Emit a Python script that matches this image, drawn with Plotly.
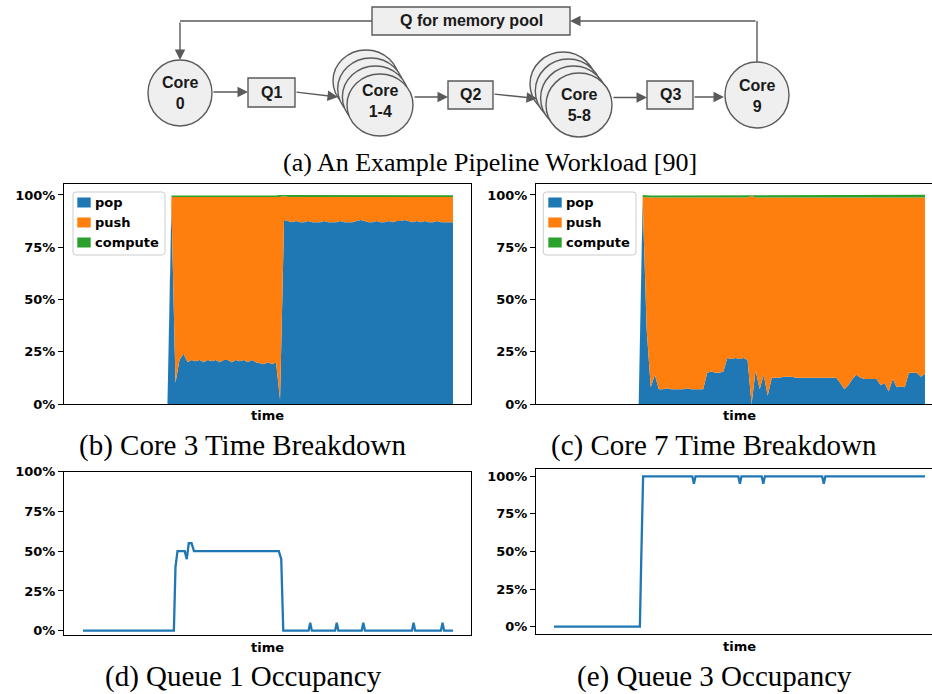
import plotly.graph_objects as go

# ---------------- data ----------------
SERIES = ["pop", "push", "compute"]
SAMPLE = list(range(93))  # sample index along the (unlabelled) time axis

POP_B = [
    0, 0, 0, 0, 0, 0, 0, 0, 0, 0,
    0, 0, 0, 0, 0, 0, 0, 0, 0, 0,
    0, 0, 0.94, 0.10, 0.21, 0.24, 0.20, 0.21, 0.205, 0.21,
    0.20, 0.21, 0.205, 0.21, 0.20, 0.21, 0.21, 0.20, 0.21, 0.205,
    0.21, 0.20, 0.21, 0.20, 0.195, 0.19, 0.20, 0.19, 0.20, 0.02,
    0.88, 0.875, 0.87, 0.875, 0.87, 0.87, 0.875, 0.87, 0.87, 0.87,
    0.875, 0.87, 0.87, 0.87, 0.875, 0.87, 0.87, 0.87, 0.875, 0.88,
    0.875, 0.87, 0.87, 0.875, 0.87, 0.87, 0.875, 0.87, 0.875, 0.875,
    0.88, 0.875, 0.87, 0.875, 0.87, 0.875, 0.87, 0.87, 0.875, 0.87,
    0.87, 0.87, 0.87,
]
PUSH_B = [
    0, 0, 0, 0, 0, 0, 0, 0, 0, 0,
    0, 0, 0, 0, 0, 0, 0, 0, 0, 0,
    0, 0, 0.05, 0.89, 0.78, 0.75, 0.79, 0.78, 0.785, 0.78,
    0.79, 0.78, 0.785, 0.78, 0.79, 0.78, 0.78, 0.79, 0.78, 0.785,
    0.78, 0.79, 0.78, 0.79, 0.795, 0.80, 0.79, 0.80, 0.79, 0.97,
    0.115, 0.115, 0.12, 0.115, 0.12, 0.12, 0.115, 0.12, 0.12, 0.12,
    0.115, 0.12, 0.12, 0.12, 0.115, 0.12, 0.12, 0.12, 0.115, 0.11,
    0.115, 0.12, 0.12, 0.115, 0.12, 0.12, 0.115, 0.12, 0.115, 0.115,
    0.11, 0.115, 0.12, 0.115, 0.12, 0.115, 0.12, 0.12, 0.115, 0.12,
    0.12, 0.12, 0.12,
]
COMPUTE_B = [
    0, 0, 0, 0, 0, 0, 0, 0, 0, 0,
    0, 0, 0, 0, 0, 0, 0, 0, 0, 0,
    0, 0, 0.008, 0.008, 0.008, 0.008, 0.008, 0.008, 0.008, 0.008,
    0.008, 0.008, 0.007, 0.008, 0.008, 0.008, 0.007, 0.008, 0.008, 0.008,
    0.008, 0.008, 0.008, 0.006, 0.008, 0.008, 0.008, 0.008, 0.008, 0.01,
    0.005, 0.009, 0.009, 0.009, 0.009, 0.009, 0.009, 0.009, 0.009, 0.009,
    0.009, 0.009, 0.008, 0.009, 0.009, 0.009, 0.009, 0.009, 0.009, 0.009,
    0.009, 0.009, 0.009, 0.009, 0.009, 0.009, 0.009, 0.008, 0.009, 0.009,
    0.009, 0.009, 0.009, 0.008, 0.009, 0.009, 0.009, 0.009, 0.009, 0.009,
    0.009, 0.009, 0.009,
]

POP_C = [
    0, 0, 0, 0, 0, 0, 0, 0, 0, 0,
    0, 0, 0, 0, 0, 0, 0, 0, 0, 0,
    0, 0, 0.97, 0.35, 0.08, 0.14, 0.07, 0.07, 0.075, 0.07,
    0.07, 0.07, 0.07, 0.075, 0.07, 0.07, 0.07, 0.07, 0.15, 0.155,
    0.15, 0.15, 0.155, 0.22, 0.215, 0.22, 0.215, 0.22, 0.21, 0.0,
    0.16, 0.07, 0.14, 0.04, 0.125, 0.125, 0.125, 0.13, 0.13, 0.13,
    0.125, 0.125, 0.125, 0.125, 0.125, 0.125, 0.125, 0.125, 0.125, 0.125,
    0.125, 0.10, 0.07, 0.09, 0.12, 0.14, 0.125, 0.12, 0.12, 0.12,
    0.12, 0.09, 0.10, 0.06, 0.12, 0.08, 0.085, 0.08, 0.15, 0.15,
    0.15, 0.13, 0.145,
]
PUSH_C = [
    0, 0, 0, 0, 0, 0, 0, 0, 0, 0,
    0, 0, 0, 0, 0, 0, 0, 0, 0, 0,
    0, 0, 0.02, 0.638, 0.908, 0.848, 0.918, 0.918, 0.913, 0.918,
    0.918, 0.918, 0.918, 0.913, 0.918, 0.918, 0.918, 0.918, 0.838, 0.833,
    0.838, 0.838, 0.833, 0.768, 0.773, 0.768, 0.773, 0.768, 0.778, 0.995,
    0.828, 0.918, 0.848, 0.948, 0.863, 0.863, 0.863, 0.858, 0.858, 0.858,
    0.863, 0.863, 0.863, 0.863, 0.863, 0.863, 0.863, 0.863, 0.863, 0.863,
    0.863, 0.888, 0.918, 0.898, 0.868, 0.848, 0.863, 0.868, 0.868, 0.868,
    0.868, 0.898, 0.888, 0.928, 0.868, 0.908, 0.903, 0.908, 0.838, 0.838,
    0.838, 0.858, 0.843,
]
COMPUTE_C = [
    0, 0, 0, 0, 0, 0, 0, 0, 0, 0,
    0, 0, 0, 0, 0, 0, 0, 0, 0, 0,
    0, 0, 0.01, 0.01, 0.01, 0.01, 0.01, 0.01, 0.01, 0.01,
    0.01, 0.01, 0.01, 0.01, 0.01, 0.01, 0.01, 0.01, 0.01, 0.01,
    0.01, 0.01, 0.01, 0.01, 0.01, 0.01, 0.01, 0.01, 0.01, 0.005,
    0.011, 0.011, 0.011, 0.011, 0.011, 0.011, 0.011, 0.011, 0.011, 0.011,
    0.011, 0.011, 0.011, 0.011, 0.011, 0.011, 0.011, 0.011, 0.011, 0.011,
    0.011, 0.011, 0.011, 0.011, 0.011, 0.011, 0.011, 0.011, 0.011, 0.012,
    0.012, 0.012, 0.012, 0.012, 0.012, 0.012, 0.012, 0.012, 0.013, 0.013,
    0.013, 0.013, 0.013,
]

Q1_TIME = [0, 22.6, 23.0, 23.5, 25.3, 25.8, 26.3, 27.0, 27.6, 48.7, 49.3, 49.8,
           56.1, 56.5, 56.9, 62.7, 63.1, 63.5, 69.3, 69.7, 70.1,
           81.8, 82.2, 82.6, 89.0, 89.4, 89.8, 92]
Q1_OCC = [0, 0, 0.40, 0.50, 0.50, 0.45, 0.55, 0.55, 0.50, 0.50, 0.45, 0,
          0, 0.05, 0, 0, 0.05, 0, 0, 0.05, 0,
          0, 0.05, 0, 0, 0.05, 0, 0]

Q3_TIME = [0, 21.3, 21.6, 22.1, 34.3, 34.7, 35.1, 45.7, 46.1, 46.5,
           51.5, 51.9, 52.3, 66.5, 66.9, 67.3, 92]
Q3_OCC = [0, 0, 0.40, 1, 1, 0.95, 1, 1, 0.95, 1,
          1, 0.95, 1, 1, 0.95, 1, 1]

Y_TICKS = [0, 0.25, 0.5, 0.75, 1.0]
Y_TICK_TEXT = ["0%", "25%", "50%", "75%", "100%"]

CAPTION_A = "(a) An Example Pipeline Workload [90]"
CAPTION_B = "(b) Core 3 Time Breakdown"
CAPTION_C = "(c) Core 7 Time Breakdown"
CAPTION_D = "(d) Queue 1 Occupancy"
CAPTION_E = "(e) Queue 3 Occupancy"
X_LABEL = "time"

# ---------------- style ----------------
COLORS = {"pop": "#1f77b4", "push": "#ff7f0e", "compute": "#2ca02c"}
W, H = 932, 694
TICK_FONT = dict(family="DejaVu Sans", size=13, color="black", weight="bold")
CAP_FONT = dict(family="Liberation Serif", size=29, color="black")
CAP_FONT_A = dict(family="Liberation Serif", size=26, color="black")
DIA_FONT = dict(family="Liberation Sans", size=16, color="#1a1a1a", weight="bold")
EDGE = "#5a5a5a"
FILL = "#efefef"


def fx(px):
    return px / W


def fy(py):
    return 1 - py / H


fig = go.Figure()

# stacked areas
for series, ys_b, ys_c in (("pop", POP_B, POP_C), ("push", PUSH_B, PUSH_C),
                           ("compute", COMPUTE_B, COMPUTE_C)):
    for ys, xa, ya, grp in ((ys_b, "x", "y", "b"), (ys_c, "x2", "y2", "c")):
        fig.add_trace(go.Scatter(
            x=SAMPLE, y=ys, mode="lines", stackgroup=grp, name=series,
            line=dict(width=0, color=COLORS[series]), fillcolor=COLORS[series],
            xaxis=xa, yaxis=ya, showlegend=False, hoverinfo="skip"))

# occupancy lines
fig.add_trace(go.Scatter(x=Q1_TIME, y=Q1_OCC, mode="lines", name="Queue 1",
                         line=dict(color=COLORS["pop"], width=2.3),
                         xaxis="x3", yaxis="y3", showlegend=False))
fig.add_trace(go.Scatter(x=Q3_TIME, y=Q3_OCC, mode="lines", name="Queue 3",
                         line=dict(color=COLORS["pop"], width=2.3),
                         xaxis="x4", yaxis="y4", showlegend=False))


def xax(dom, rng, anchor):
    return dict(domain=[fx(dom[0]), min(1.0, fx(dom[1]))], range=rng, anchor=anchor,
                showticklabels=False, ticks="", showgrid=False, zeroline=False,
                showline=True, linecolor="black", linewidth=1, mirror=True,
                fixedrange=True)


def yax(dom, rng, anchor, mirror):
    return dict(domain=[fy(dom[1]), fy(dom[0])], range=rng, anchor=anchor,
                tickvals=Y_TICKS, ticktext=Y_TICK_TEXT, ticks="outside", ticklen=5,
                tickwidth=1, tickcolor="black", tickfont=TICK_FONT,
                showgrid=False, zeroline=False, showline=True, linecolor="black",
                linewidth=1, mirror=mirror, fixedrange=True)


fig.update_layout(
    width=W, height=H, margin=dict(l=0, r=0, t=0, b=0, autoexpand=False),
    paper_bgcolor="white", plot_bgcolor="white", showlegend=False,
    xaxis=xax((64, 471), [-4.72, 96.48], "y"),
    yaxis=yax((184, 404), [0, 1.0526], "x", True),
    xaxis2=xax((536, 932), [-4.46, 93.74], "y2"),
    yaxis2=yax((184, 404), [0, 1.0526], "x2", False),
    xaxis3=xax((64, 471), [-4.72, 96.48], "y3"),
    yaxis3=yax((471.7, 635), [-0.027, 1.0], "x3", True),
    xaxis4=xax((536, 932), [-4.46, 93.74], "y4"),
    yaxis4=yax((469, 634), [-0.0485, 1.0485], "x4", False),
)

shapes = []
annotations = []


def rect(x0, y0, x1, y1, fill=FILL, edge=EDGE, width=1.4):
    shapes.append(dict(type="rect", xref="paper", yref="paper",
                       x0=fx(x0), x1=fx(x1), y0=fy(y1), y1=fy(y0),
                       fillcolor=fill, line=dict(color=edge, width=width),
                       layer="above"))


def rounded_box(x0, y0, x1, y1, r=3):
    pts = [("M", x0 + r, y0), ("L", x1 - r, y0), ("Q", x1, y0, x1, y0 + r),
           ("L", x1, y1 - r), ("Q", x1, y1, x1 - r, y1), ("L", x0 + r, y1),
           ("Q", x0, y1, x0, y1 - r), ("L", x0, y0 + r), ("Q", x0, y0, x0 + r, y0)]
    parts = []
    for p in pts:
        cmd, coords = p[0], p[1:]
        xy = []
        for i in range(0, len(coords), 2):
            xy.append("%.6f,%.6f" % (fx(coords[i]), fy(coords[i + 1])))
        parts.append(cmd + " ".join(xy))
    shapes.append(dict(type="path", xref="paper", yref="paper",
                       path=" ".join(parts) + " Z", fillcolor="white",
                       line=dict(color="#cccccc", width=1), layer="above"))


def ellipse(cx, cy, rx, ry):
    shapes.append(dict(type="circle", xref="paper", yref="paper",
                       x0=fx(cx - rx), x1=fx(cx + rx), y0=fy(cy + ry), y1=fy(cy - ry),
                       fillcolor=FILL, line=dict(color=EDGE, width=1.4), layer="above"))


def line(x0, y0, x1, y1):
    shapes.append(dict(type="line", xref="paper", yref="paper",
                       x0=fx(x0), x1=fx(x1), y0=fy(y0), y1=fy(y1),
                       line=dict(color=EDGE, width=1.4), layer="above"))


def arrow(tx, ty, hx, hy):
    annotations.append(dict(xref="paper", yref="paper", x=fx(hx), y=fy(hy),
                            ax=tx - hx, ay=ty - hy, text="", showarrow=True,
                            arrowhead=2, arrowsize=1.5, arrowwidth=1.4,
                            arrowcolor=EDGE, standoff=0))


def label(x, y, text, font, xanchor="center", yanchor="middle"):
    annotations.append(dict(xref="paper", yref="paper", x=fx(x), y=fy(y), text=text,
                            showarrow=False, font=font, xanchor=xanchor,
                            yanchor=yanchor))


# ---- legends (matplotlib-style: square patches, bold labels) ----
for bx0, bx1, px0 in ((73, 165, 77.3), (543.3, 636, 548.3)):
    rounded_box(bx0, 192, bx1, 255)
    for k, series in enumerate(SERIES):
        cy = 202.5 + 20 * k
        rect(px0, cy - 5, px0 + 13.4, cy + 5, fill=COLORS[series],
             edge=COLORS[series], width=0)
        label(px0 + 16, cy, series, TICK_FONT, xanchor="left")

# ---- pipeline diagram ----
line(372, 21, 180, 21)
arrow(180, 21, 180, 60)
line(757, 63, 757, 21)
arrow(757, 21, 570, 21)
rect(372, 7, 570, 35)
label(471, 21, "Q for memory pool", DIA_FONT)

ellipse(180, 93, 32, 33)
label(180, 93, "Core<br>0", DIA_FONT)

rect(248, 78, 295, 107)
label(271.5, 92.5, "Q1", DIA_FONT)

for cx, cy in ((366, 81), (370.7, 89), (375.4, 97), (380, 105)):
    ellipse(cx, cy, 33, 31)
label(380, 101, "Core<br>1-4", DIA_FONT)

rect(448, 81, 493, 109)
label(470.5, 95, "Q2", DIA_FONT)

for cx, cy in ((563, 84), (568.3, 91), (573.6, 98), (579, 105)):
    ellipse(cx, cy, 33, 32)
label(579, 105, "Core<br>5-8", DIA_FONT)

rect(647, 81, 693, 109)
label(670, 95, "Q3", DIA_FONT)

ellipse(757, 95, 32, 33)
label(757, 96, "Core<br>9", DIA_FONT)

arrow(212, 92, 248, 92)
arrow(295, 92, 338, 97)
arrow(413, 97, 448, 97)
arrow(493, 94, 537, 98.5)
arrow(612, 97.5, 647, 97.5)
arrow(693, 97, 724, 97)

# ---- captions ----
label(490, 162, CAPTION_A, CAP_FONT_A)
label(243, 446, CAPTION_B, CAP_FONT)
label(714, 446, CAPTION_C, CAP_FONT)
label(243, 676, CAPTION_D, CAP_FONT)
label(714, 676, CAPTION_E, CAP_FONT)

# ---- axis labels ----
label(267.5, 415, X_LABEL, TICK_FONT)
label(739, 415, X_LABEL, TICK_FONT)
label(267.5, 647, X_LABEL, TICK_FONT)
label(739, 646, X_LABEL, TICK_FONT)

fig.update_layout(shapes=shapes, annotations=annotations)

PIN_PAGE = (
    "document.documentElement.style.margin='0px';"
    "document.documentElement.style.padding='0px';"
    "document.body.style.margin='0px';"
    "document.body.style.padding='0px';"
    "document.body.style.overflow='hidden';"
    "var gds=document.getElementsByClassName('plotly-graph-div');"
    "for(var i=0;i<gds.length;i++){gds[i].style.position='fixed';"
    "gds[i].style.left='0px';gds[i].style.top='0px';}"
)

fig.write_html("out.html", config={"displayModeBar": False}, post_script=PIN_PAGE)
